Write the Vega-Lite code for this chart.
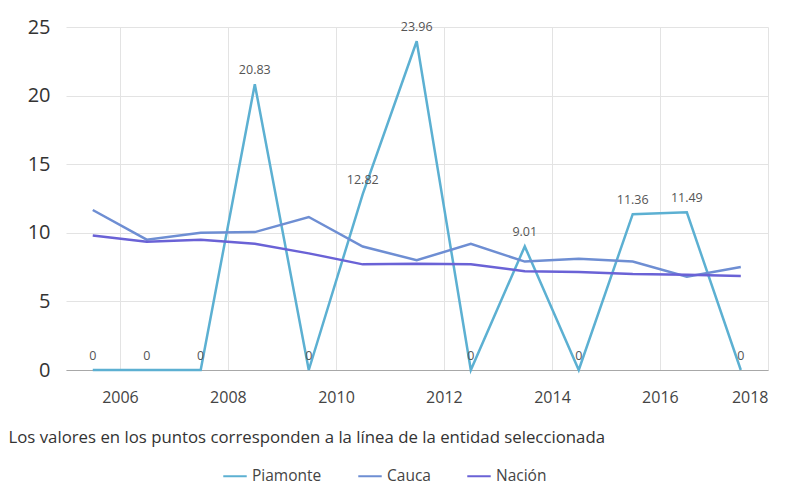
{
  "$schema": "https://vega.github.io/schema/vega-lite/v6.json",
  "width": 702,
  "height": 343,
  "autosize": "none",
  "padding": {"left": 66, "top": 27, "right": 19, "bottom": 117},
  "background": "white",
  "config": {
    "font": "Open Sans",
    "view": {"stroke": null},
    "axis": {"gridColor": "#e3e3e3", "gridWidth": 1}
  },
  "data": {
    "values": [
      {"date": "2005-07-01", "serie": "Piamonte", "valor": 0},
      {"date": "2006-07-01", "serie": "Piamonte", "valor": 0},
      {"date": "2007-07-01", "serie": "Piamonte", "valor": 0},
      {"date": "2008-07-01", "serie": "Piamonte", "valor": 20.83},
      {"date": "2009-07-01", "serie": "Piamonte", "valor": 0},
      {"date": "2010-07-01", "serie": "Piamonte", "valor": 12.82},
      {"date": "2011-07-01", "serie": "Piamonte", "valor": 23.96},
      {"date": "2012-07-01", "serie": "Piamonte", "valor": 0},
      {"date": "2013-07-01", "serie": "Piamonte", "valor": 9.01},
      {"date": "2014-07-01", "serie": "Piamonte", "valor": 0},
      {"date": "2015-07-01", "serie": "Piamonte", "valor": 11.36},
      {"date": "2016-07-01", "serie": "Piamonte", "valor": 11.49},
      {"date": "2017-07-01", "serie": "Piamonte", "valor": 0},
      {"date": "2005-07-01", "serie": "Cauca", "valor": 11.66},
      {"date": "2006-07-01", "serie": "Cauca", "valor": 9.5},
      {"date": "2007-07-01", "serie": "Cauca", "valor": 10.0},
      {"date": "2008-07-01", "serie": "Cauca", "valor": 10.05},
      {"date": "2009-07-01", "serie": "Cauca", "valor": 11.15},
      {"date": "2010-07-01", "serie": "Cauca", "valor": 9.0},
      {"date": "2011-07-01", "serie": "Cauca", "valor": 8.0},
      {"date": "2012-07-01", "serie": "Cauca", "valor": 9.2},
      {"date": "2013-07-01", "serie": "Cauca", "valor": 7.9},
      {"date": "2014-07-01", "serie": "Cauca", "valor": 8.1},
      {"date": "2015-07-01", "serie": "Cauca", "valor": 7.9},
      {"date": "2016-07-01", "serie": "Cauca", "valor": 6.8},
      {"date": "2017-07-01", "serie": "Cauca", "valor": 7.5},
      {"date": "2005-07-01", "serie": "Nación", "valor": 9.8},
      {"date": "2006-07-01", "serie": "Nación", "valor": 9.35},
      {"date": "2007-07-01", "serie": "Nación", "valor": 9.5},
      {"date": "2008-07-01", "serie": "Nación", "valor": 9.2},
      {"date": "2009-07-01", "serie": "Nación", "valor": 8.5},
      {"date": "2010-07-01", "serie": "Nación", "valor": 7.7},
      {"date": "2011-07-01", "serie": "Nación", "valor": 7.75},
      {"date": "2012-07-01", "serie": "Nación", "valor": 7.7},
      {"date": "2013-07-01", "serie": "Nación", "valor": 7.2},
      {"date": "2014-07-01", "serie": "Nación", "valor": 7.15},
      {"date": "2015-07-01", "serie": "Nación", "valor": 7.0},
      {"date": "2016-07-01", "serie": "Nación", "valor": 6.95},
      {"date": "2017-07-01", "serie": "Nación", "valor": 6.85}
    ]
  },
  "encoding": {
    "x": {
      "field": "date",
      "type": "temporal",
      "scale": {"type": "utc", "domain": ["2005-01-01", "2018-01-01"]},
      "axis": {
        "format": "%Y",
        "tickCount": {"interval": "year", "step": 2},
        "labelFontSize": 16,
        "labelColor": "#444",
        "labelPadding": 19,
        "ticks": false,
        "domain": true,
        "domainColor": "#a8a8a8",
        "title": "Los valores en los puntos corresponden a la línea de la entidad seleccionada",
        "titleFontSize": 16.8,
        "titleFontWeight": "normal",
        "titleColor": "#333",
        "titleAnchor": "start",
        "titleAlign": "left",
        "titleBaseline": "middle",
        "titleX": -58,
        "titleY": 67
      }
    },
    "y": {
      "field": "valor",
      "type": "quantitative",
      "scale": {"domain": [0, 25], "nice": false},
      "axis": {
        "values": [0, 5, 10, 15, 20, 25],
        "labelFontSize": 20,
        "labelColor": "#333",
        "labelPadding": 16,
        "ticks": false,
        "domain": false,
        "title": null
      }
    }
  },
  "layer": [
    {
      "mark": {"type": "line", "strokeWidth": 2.5},
      "encoding": {
        "color": {
          "field": "serie",
          "type": "nominal",
          "scale": {"domain": ["Piamonte", "Cauca", "Nación"], "range": ["#5cb0d2", "#6e8ed3", "#6a62d6"]},
          "legend": {
            "orient": "none",
            "legendX": 156,
            "legendY": 436,
            "padding": 0,
            "direction": "horizontal",
            "title": null,
            "symbolType": "stroke",
            "symbolSize": 550,
            "symbolStrokeWidth": 2,
            "labelFontSize": 15.5,
            "labelColor": "#444",
            "columnPadding": 32,
            "labelOffset": 4
          }
        }
      }
    },
    {
      "transform": [{"filter": "datum.serie === 'Piamonte'"}],
      "mark": {"type": "text", "dy": -14, "fontSize": 12.5, "color": "#555"},
      "encoding": {"text": {"field": "valor", "type": "quantitative"}}
    }
  ]
}
